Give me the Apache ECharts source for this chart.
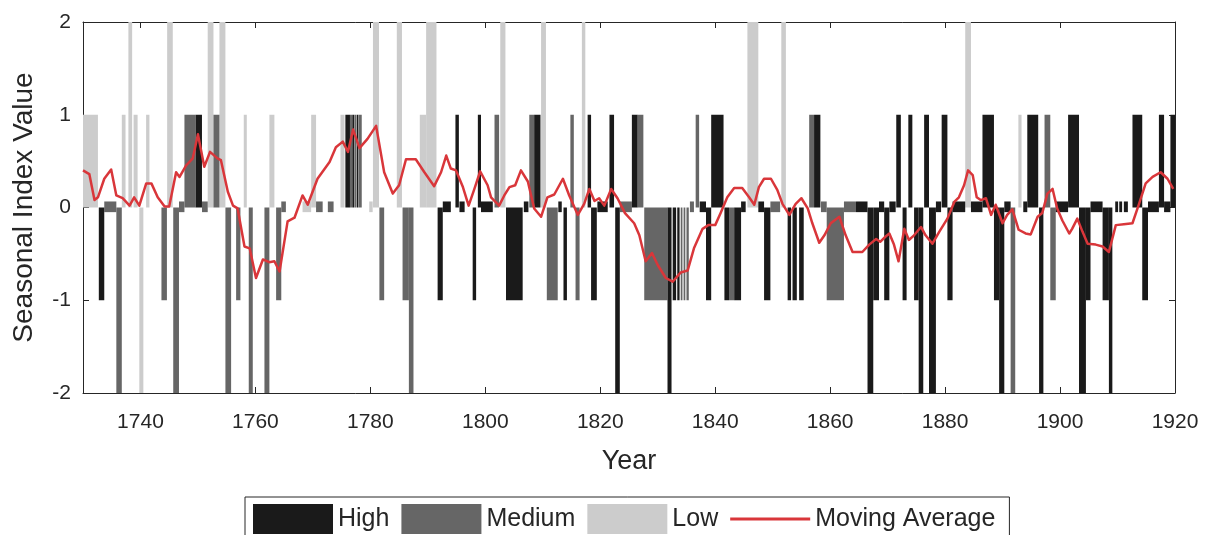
<!DOCTYPE html>
<html>
<head>
<meta charset="utf-8">
<script src="https://cdn.jsdelivr.net/npm/echarts@6/dist/echarts.min.js"></script>
<style>
  html, body { margin: 0; padding: 0; background: #fff; }
  #chart { width: 1210px; height: 535px; }
</style>
</head>
<body>
<div id="chart"></div>
<script>
// bar segments: [startYear, endYear, value]; value 0 = stub at zero
var highBars = [
  [1732.75, 1733.7, -1], [1749.6, 1750.7, 1], [1775.65, 1776.45, 1], [1776.85, 1777.15, 1],
  [1777.6, 1777.9, 1], [1791.7, 1792.6, -1], [1792.6, 1794.0, 0], [1794.8, 1795.4, 1],
  [1795.5, 1796.4, 0], [1797.8, 1798.4, -1], [1798.7, 1799.25, 1], [1799.25, 1801.3, 0],
  [1803.6, 1806.5, -1], [1806.7, 1807.5, 0], [1808.5, 1809.6, 1], [1812.7, 1813.3, 0],
  [1813.6, 1814.2, -1], [1817.8, 1818.4, 1], [1818.4, 1819.4, -1], [1819.5, 1821.3, 0],
  [1821.6, 1822.4, 1], [1822.6, 1823.4, -2], [1825.5, 1826.5, 1], [1831.7, 1832.4, -2],
  [1832.6, 1833.2, -1], [1833.4, 1833.8, -1], [1837.3, 1838.4, 0], [1838.4, 1839.3, -1],
  [1839.3, 1841.45, 1], [1841.6, 1842.4, -1], [1843.3, 1844.5, -1], [1844.5, 1845.3, 0],
  [1847.5, 1848.5, 0], [1848.5, 1849.6, -1], [1852.6, 1853.2, -1], [1853.45, 1854.2, -1],
  [1854.6, 1855.4, -1], [1857.2, 1858.3, 1], [1864.5, 1866.5, 0], [1866.5, 1867.5, -2],
  [1867.5, 1868.5, -1], [1868.5, 1869.4, 0], [1869.4, 1870.3, -1], [1870.3, 1871.4, 0],
  [1871.5, 1872.3, 1], [1872.6, 1873.3, -1], [1873.6, 1874.3, 1], [1874.6, 1875.4, -1],
  [1875.4, 1876.2, -2], [1876.35, 1877.2, 1], [1877.2, 1878.4, -2], [1878.4, 1879.3, 0],
  [1879.4, 1880.4, 1], [1880.4, 1881.3, -1], [1881.3, 1883.5, 0], [1884.5, 1886.5, 0],
  [1886.5, 1888.5, 1], [1888.5, 1889.4, -1], [1889.4, 1890.3, -2], [1890.3, 1891.4, 0],
  [1893.6, 1894.3, 0], [1894.3, 1896.2, 1], [1896.35, 1897.1, -2], [1899.25, 1901.4, 0],
  [1901.4, 1903.3, 1], [1903.3, 1904.5, -2], [1904.5, 1905.3, -1], [1905.3, 1907.4, 0],
  [1907.4, 1908.5, -1], [1908.5, 1909.1, -2], [1909.6, 1910.1, 0], [1910.3, 1910.8, 0],
  [1911.1, 1911.8, 0], [1912.6, 1914.3, 1], [1914.3, 1915.3, -1], [1915.3, 1917.2, 0],
  [1917.2, 1918.1, 1], [1918.1, 1919.2, 0], [1919.2, 1920, 1]
];
var mediumBars = [
  [1733.7, 1735.8, 0], [1735.8, 1736.75, -2], [1743.65, 1744.6, -1], [1745.7, 1746.7, -2],
  [1746.7, 1747.65, 0], [1747.65, 1749.6, 1], [1750.7, 1751.7, 0], [1752.7, 1753.74, 1],
  [1754.78, 1755.77, -2], [1756.64, 1757.39, -1], [1758.84, 1759.54, -2], [1761.57, 1762.43, -2],
  [1763.6, 1764.5, -1], [1764.5, 1765.3, 0], [1770.55, 1771.7, 0], [1772.6, 1773.6, 0],
  [1776.45, 1776.8, 1], [1777.2, 1777.5, 1], [1777.95, 1778.5, 1], [1781.57, 1782.4, -1],
  [1785.6, 1786.7, -1], [1786.7, 1787.5, -2], [1801.6, 1802.4, 1], [1807.65, 1808.5, 1],
  [1810.7, 1812.6, -1], [1814.8, 1815.4, 1], [1815.7, 1816.4, -1], [1823.4, 1825.5, 0],
  [1826.5, 1827.5, 1], [1827.65, 1831.7, -1], [1834.0, 1834.3, -1], [1834.5, 1834.8, -1],
  [1835.0, 1835.4, -1], [1835.6, 1836.3, 0], [1836.6, 1837.2, 1], [1842.4, 1843.3, -1],
  [1849.6, 1851.3, 0], [1856.35, 1857.2, 1], [1858.4, 1859.4, 0], [1859.4, 1862.4, -1],
  [1862.4, 1864.5, 0], [1891.4, 1892.2, -2], [1897.3, 1898.3, 1], [1898.3, 1899.25, -1]
];
var lowBars = [
  [1730, 1732.6, 1], [1736.75, 1737.4, 1], [1737.9, 1738.55, 2], [1738.8, 1739.5, 1],
  [1739.8, 1740.5, -2], [1740.98, 1741.56, 1], [1744.64, 1745.62, 2], [1751.7, 1752.7, 2],
  [1753.74, 1754.78, 2], [1757.97, 1758.5, 1], [1762.43, 1763.3, 1], [1768.2, 1769.7, 0],
  [1769.7, 1770.55, 1], [1774.8, 1775.5, 1], [1779.8, 1780.4, 0], [1780.45, 1781.5, 2],
  [1784.6, 1785.5, 2], [1788.6, 1789.7, 1], [1789.7, 1791.5, 2], [1802.6, 1803.5, 2],
  [1809.7, 1810.55, 2], [1816.8, 1817.4, 2], [1845.6, 1847.5, 2], [1851.5, 1852.3, 2],
  [1883.5, 1884.5, 2], [1892.75, 1893.3, 1]
];

// moving average
var maYears = [
  1730.0, 1731.1, 1732.0, 1732.6, 1733.7, 1734.9, 1735.8, 1736.9, 1738.1, 1738.9, 1739.8, 1741.0,
  1741.9, 1743.0, 1744.2, 1745.0, 1746.2, 1746.8, 1747.9, 1749.1, 1750.0, 1751.1, 1752.1, 1753.4,
  1754.0, 1755.2, 1756.1, 1756.9, 1758.1, 1759.0, 1760.1, 1761.3, 1762.4, 1763.3, 1764.2, 1765.6,
  1766.8, 1768.2, 1769.1, 1770.8, 1772.9, 1774.0, 1775.2, 1776.1, 1777.0, 1778.1, 1779.5, 1781.0,
  1782.4, 1783.9, 1785.0, 1786.2, 1787.9, 1789.4, 1791.1, 1792.3, 1793.2, 1794.0, 1794.9, 1796.1,
  1797.1, 1798.1, 1799.1, 1800.4, 1801.0, 1802.4, 1803.3, 1804.2, 1805.2, 1806.2, 1807.4, 1808.5,
  1809.7, 1810.8, 1812.0, 1813.5, 1814.6, 1816.1, 1817.2, 1818.1, 1819.0, 1819.8, 1820.7, 1821.9,
  1823.0, 1824.3, 1825.9, 1826.8, 1827.9, 1829.0, 1830.0, 1831.4, 1832.6, 1834.0, 1835.2, 1836.3,
  1837.8, 1838.8, 1840.0, 1841.0, 1842.1, 1843.3, 1844.7, 1845.9, 1846.8, 1847.6, 1848.5, 1849.7,
  1850.8, 1851.7, 1852.9, 1854.0, 1855.0, 1856.1, 1856.9, 1858.1, 1859.0, 1860.1, 1861.6, 1862.7,
  1863.9, 1865.6, 1866.8, 1868.0, 1868.7, 1869.7, 1870.3, 1871.1, 1871.9, 1872.9, 1873.7, 1874.6,
  1875.8, 1876.6, 1877.8, 1879.0, 1880.4, 1881.6, 1882.4, 1883.3, 1884.0, 1884.8, 1885.5, 1886.2,
  1887.1, 1888.0, 1888.8, 1890.0, 1890.8, 1891.7, 1892.8, 1894.0, 1894.9, 1896.1, 1896.9, 1897.8,
  1898.7, 1899.5, 1900.4, 1901.6, 1902.1, 1903.0, 1903.9, 1904.8, 1906.2, 1907.4, 1908.5, 1909.7,
  1911.1, 1912.6, 1913.7, 1914.9, 1916.1, 1917.5, 1918.7, 1919.7
];
var maValues = [
  0.40, 0.36, 0.08, 0.11, 0.31, 0.41, 0.13, 0.10, 0.02, 0.11, 0.02, 0.26,
  0.26, 0.11, 0.01, 0.01, 0.38, 0.33, 0.45, 0.53, 0.79, 0.44, 0.60, 0.53,
  0.51, 0.17, 0.02, -0.01, -0.42, -0.44, -0.76, -0.56, -0.59, -0.58, -0.69, -0.15,
  -0.11, 0.13, 0.03, 0.31, 0.49, 0.65, 0.71, 0.60, 0.84, 0.64, 0.74, 0.88,
  0.38, 0.15, 0.24, 0.52, 0.52, 0.38, 0.23, 0.38, 0.56, 0.42, 0.40, 0.22,
  0.02, 0.20, 0.39, 0.24, 0.11, 0.02, 0.13, 0.22, 0.24, 0.40, 0.28, -0.01,
  -0.10, 0.11, 0.14, 0.31, 0.13, -0.08, 0.04, 0.20, 0.07, 0.10, 0.02, 0.20,
  0.10, -0.06, -0.17, -0.30, -0.58, -0.49, -0.62, -0.76, -0.80, -0.70, -0.68, -0.44,
  -0.23, -0.19, -0.19, -0.05, 0.11, 0.21, 0.21, 0.11, 0.03, 0.22, 0.31, 0.31,
  0.19, 0.04, -0.08, 0.04, 0.10, -0.01, -0.17, -0.38, -0.30, -0.17, -0.10, -0.30,
  -0.48, -0.48, -0.40, -0.34, -0.37, -0.31, -0.28, -0.40, -0.58, -0.23, -0.35, -0.30,
  -0.21, -0.30, -0.39, -0.26, -0.12, 0.06, 0.11, 0.24, 0.40, 0.35, 0.11, 0.08,
  0.10, -0.08, 0.03, -0.17, -0.08, -0.02, -0.24, -0.28, -0.29, -0.10, -0.06, 0.15,
  0.20, -0.01, -0.14, -0.28, -0.23, -0.12, -0.26, -0.39, -0.40, -0.42, -0.48, -0.19,
  -0.18, -0.17, 0.03, 0.26, 0.33, 0.38, 0.31, 0.20
];

var xTicks = [1740, 1760, 1780, 1800, 1820, 1840, 1860, 1880, 1900, 1920];

var FONT = '"Liberation Sans", Arial, Helvetica, sans-serif';
var AXIS_COLOR = '#262626';
var RED = '#d9363a';

// stubs for zero values are drawn slightly above and below the baseline
function barSeries(name, data, color) {
  return {
    name: name,
    type: 'custom',
    xAxisIndex: 0,
    yAxisIndex: 0,
    data: data,
    itemStyle: { color: color },
    encode: { x: [0, 1], y: 2 },
    renderItem: function (params, api) {
      var v = api.value(2);
      var top = v === 0 ? 0.065 : Math.max(v, 0);
      var bot = v === 0 ? -0.05 : Math.min(v, 0);
      var p1 = api.coord([api.value(0), top]);
      var p2 = api.coord([api.value(1), bot]);
      return {
        type: 'rect',
        shape: { x: p1[0], y: p1[1], width: p2[0] - p1[0], height: p2[1] - p1[1] },
        style: { fill: api.visual('color') }
      };
    }
  };
}

var chart = echarts.init(document.getElementById('chart'), null, { renderer: 'canvas' });

var maData = maYears.map(function (y, i) { return [y, maValues[i]]; });

chart.setOption({
  animation: false,
  backgroundColor: '#fff',
  textStyle: { fontFamily: FONT },
  grid: { left: 83, right: 35, top: 22, bottom: 142 },
  legend: {
    left: 245,
    top: 497,
    orient: 'horizontal',
    padding: [7, 14, 12, 8],
    itemGap: 12,
    itemWidth: 80,
    itemHeight: 30,
    borderColor: AXIS_COLOR,
    borderWidth: 1,
    textStyle: { fontSize: 25, color: AXIS_COLOR, fontFamily: FONT },
    data: [
      { name: 'High', icon: 'rect' },
      { name: 'Medium', icon: 'rect' },
      { name: 'Low', icon: 'rect' },
      { name: 'Moving Average', icon: 'path://M0,0H80V3H0Z', itemStyle: { color: RED } }
    ]
  },
  xAxis: [
    {
      type: 'value', position: 'bottom', min: 1730, max: 1920,
      name: 'Year', nameLocation: 'middle', nameGap: 55,
      nameTextStyle: { fontSize: 27, color: AXIS_COLOR, fontFamily: FONT },
      axisLine: { show: true, onZero: false, lineStyle: { color: AXIS_COLOR, width: 1 } },
      axisTick: { show: true, inside: true, length: 6, customValues: xTicks, lineStyle: { color: AXIS_COLOR } },
      axisLabel: {
        customValues: xTicks, fontSize: 21, color: AXIS_COLOR, margin: 19, fontFamily: FONT,
        formatter: function (v) { return String(v); }
      },
      splitLine: { show: false }
    },
    {
      type: 'value', position: 'top', min: 1730, max: 1920,
      axisLine: { show: true, onZero: false, lineStyle: { color: AXIS_COLOR, width: 1 } },
      axisTick: { show: true, inside: true, length: 6, customValues: xTicks, lineStyle: { color: AXIS_COLOR } },
      axisLabel: { show: false },
      splitLine: { show: false }
    }
  ],
  yAxis: [
    {
      type: 'value', position: 'left', min: -2, max: 2, interval: 1,
      name: 'Seasonal Index Value', nameLocation: 'middle', nameGap: 45, nameRotate: 90,
      nameTextStyle: { fontSize: 28, color: AXIS_COLOR, fontFamily: FONT },
      axisLine: { show: true, onZero: false, lineStyle: { color: AXIS_COLOR, width: 1 } },
      axisTick: { show: true, inside: true, length: 6, lineStyle: { color: AXIS_COLOR } },
      axisLabel: { fontSize: 21, color: AXIS_COLOR, margin: 12, fontFamily: FONT },
      splitLine: { show: false }
    },
    {
      type: 'value', position: 'right', min: -2, max: 2, interval: 1,
      axisLine: { show: true, onZero: false, lineStyle: { color: AXIS_COLOR, width: 1 } },
      axisTick: { show: true, inside: true, length: 6, lineStyle: { color: AXIS_COLOR } },
      axisLabel: { show: false },
      splitLine: { show: false }
    }
  ],
  series: [
    barSeries('Low', lowBars, '#cccccc'),
    barSeries('Medium', mediumBars, '#666666'),
    barSeries('High', highBars, '#1a1a1a'),
    {
      name: 'Moving Average',
      type: 'line',
      xAxisIndex: 0,
      yAxisIndex: 0,
      data: maData,
      symbol: 'none',
      smooth: false,
      z: 5,
      itemStyle: { color: RED },
      lineStyle: { color: RED, width: 2.5, join: 'round' }
    }
  ]
});
</script>
</body>
</html>
